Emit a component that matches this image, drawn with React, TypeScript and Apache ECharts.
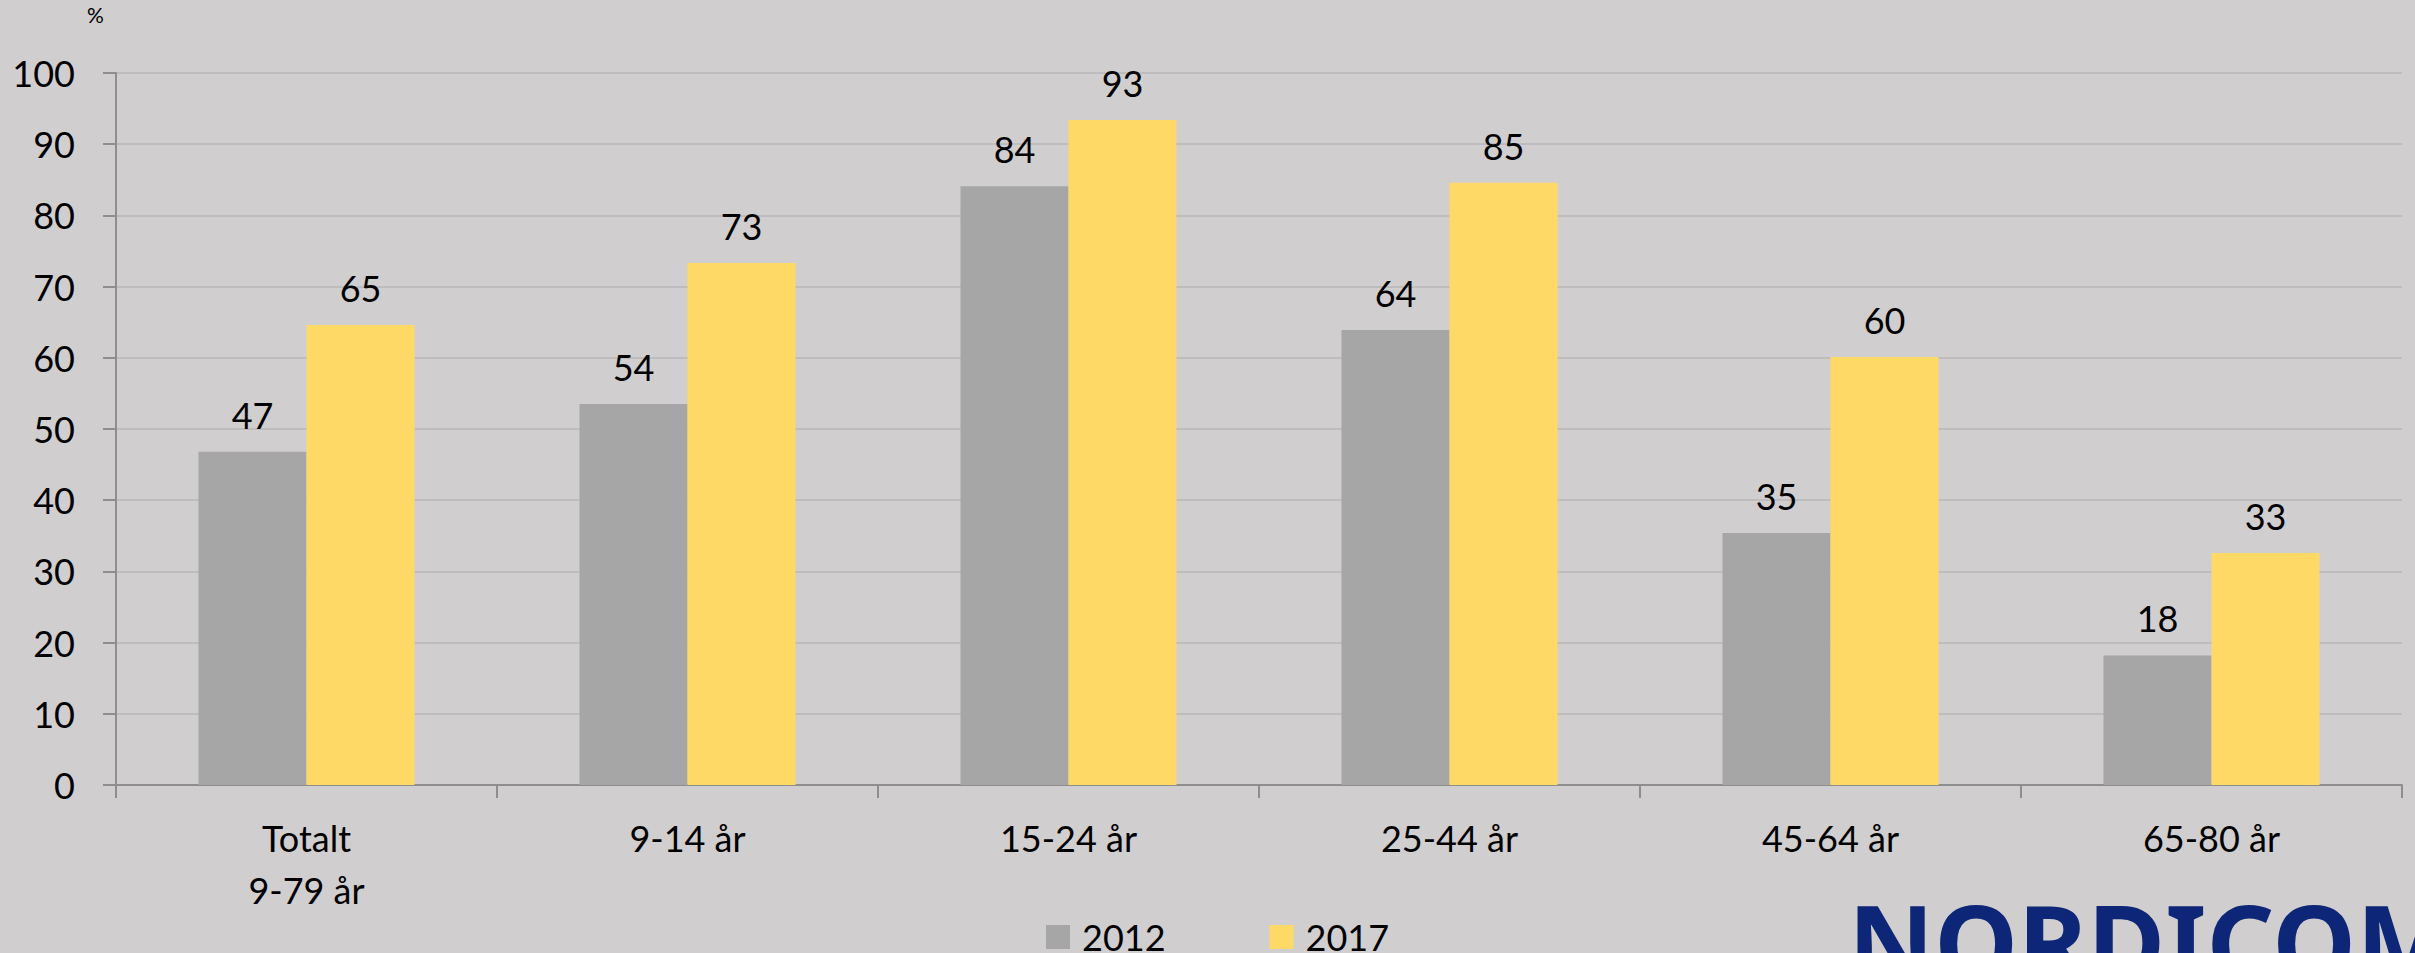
import React, { useEffect, useRef } from "react";
import * as echarts from "echarts";

const categories = ["Totalt\n9-79 år", "9-14 år", "15-24 år", "25-44 år", "45-64 år", "65-80 år"];
const values2012 = [46.8, 53.5, 84.1, 63.9, 35.4, 18.2];
const values2017 = [64.6, 73.3, 93.4, 84.6, 60.1, 32.6];
const seriesNames = ["2012", "2017"];
const yTicks = { min: 0, max: 100, interval: 10 };
const logoText = "NORDICOM";

const FONT = "Lato, 'Noto Sans', sans-serif";

export default function App() {
  const ref = useRef<HTMLDivElement>(null);
  useEffect(() => {
    if (!ref.current) return;
    const chart = echarts.init(ref.current, null, { renderer: "svg" });
    const labelCfg = {
      show: true,
      position: "top",
      distance: 19,
      color: "#000",
      fontFamily: FONT,
      fontSize: 36,
      formatter: (p: any) => String(Math.round(p.value)),
    };
    chart.setOption({
      animation: false,
      backgroundColor: "#d0cecf",
      textStyle: { fontFamily: FONT },
      grid: { left: 116, right: 13, top: 73, bottom: 168, containLabel: false },
      legend: {
        left: 1046,
        top: 919,
        padding: 0,
        itemWidth: 24,
        itemHeight: 24,
        itemGap: 104,
        icon: "rect",
        data: seriesNames,
        textStyle: {
          fontFamily: FONT,
          fontSize: 36,
          lineHeight: 30,
          color: "#000",
          padding: [0, 0, 0, 7],
        },
      },
      xAxis: {
        type: "category",
        data: categories,
        axisLine: { show: true, lineStyle: { color: "#8e8e8e", width: 2 } },
        axisTick: { show: true, length: 13, lineStyle: { color: "#8e8e8e", width: 2 } },
        axisLabel: {
          color: "#000",
          fontFamily: FONT,
          fontSize: 36,
          lineHeight: 52,
          margin: 27,
        },
      },
      yAxis: {
        type: "value",
        min: yTicks.min,
        max: yTicks.max,
        interval: yTicks.interval,
        axisLine: { show: true, lineStyle: { color: "#8e8e8e", width: 2 } },
        axisTick: { show: true, length: 13, lineStyle: { color: "#8e8e8e", width: 2 } },
        axisLabel: { color: "#000", fontFamily: FONT, fontSize: 36, margin: 41 },
        splitLine: { show: true, lineStyle: { color: "#bebcbd", width: 2 } },
      },
      series: [
        {
          name: seriesNames[0],
          type: "bar",
          data: values2012,
          barWidth: 108,
          barGap: "0%",
          itemStyle: { color: "#a6a6a6" },
          label: labelCfg,
        },
        {
          name: seriesNames[1],
          type: "bar",
          data: values2017,
          barWidth: 108,
          barGap: "0%",
          itemStyle: { color: "#ffd966" },
          label: labelCfg,
        },
      ],
      graphic: [
        {
          type: "text",
          left: 87,
          top: 4,
          style: { text: "%", fontFamily: FONT, fontSize: 21, fill: "#000" },
        },
        {
          type: "text",
          x: 1848,
          y: 888,
          style: {
            text: logoText,
            fontFamily: "'Noto Sans', sans-serif",
            fontWeight: "bold",
            fontSize: 106,
            fill: "#0d2677",
            verticalAlign: "top",
          },
        },
      ],
    });
    return () => chart.dispose();
  }, []);
  return (
    <div
      ref={ref}
      style={{ position: "fixed", left: 0, top: 0, width: 2415, height: 953 }}
    />
  );
}
